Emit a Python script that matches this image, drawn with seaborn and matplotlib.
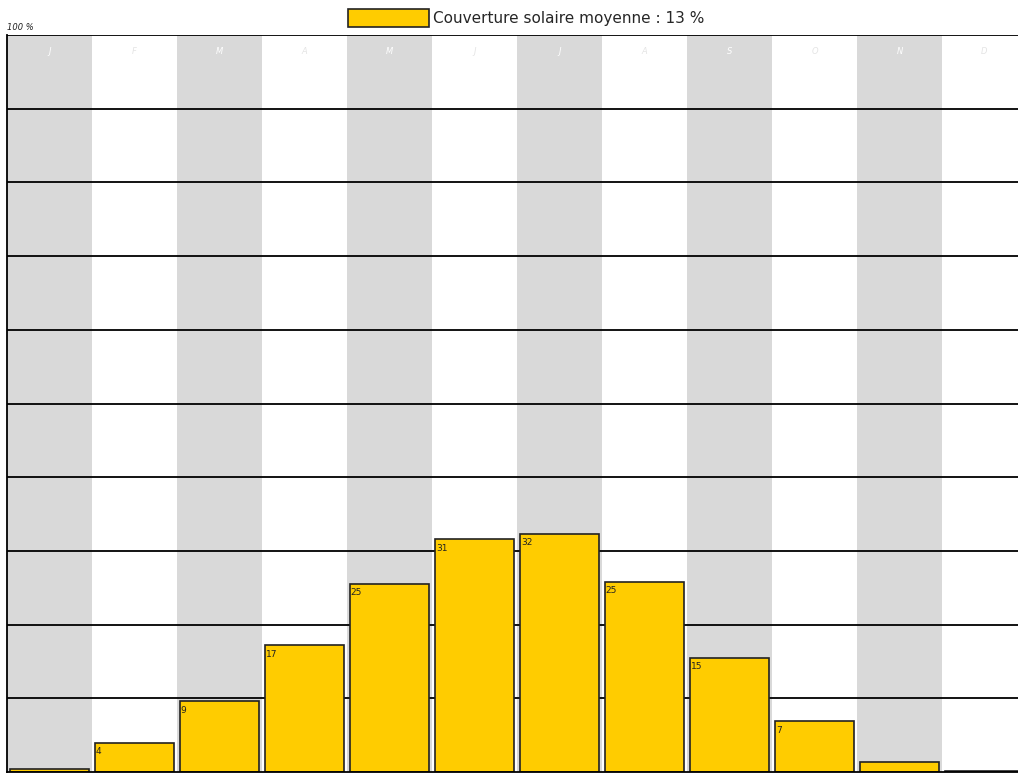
import numpy as np
import pandas as pd
import matplotlib
matplotlib.use('Agg')
import matplotlib.pyplot as plt
import seaborn as sns
from matplotlib.patches import Patch

# data
months = ['janv', 'fevr', 'mars', 'avr', 'mai', 'juin',
          'juil', 'aout', 'sept', 'oct', 'nov', 'dec']
month_letters = ['J', 'F', 'M', 'A', 'M', 'J', 'J', 'A', 'S', 'O', 'N', 'D']
coverage = [0.4, 4.0, 9.6, 17.2, 25.5, 31.6, 32.3, 25.8, 15.5, 6.9, 1.4, 0.15]
bar_labels = ['', '4', '9', '17', '25', '31', '32', '25', '15', '7', '', '']
legend_text = 'Couverture solaire moyenne : 13 %'

df = pd.DataFrame({'mois': months, 'couverture': coverage})

sns.set_style('white')
plt.rcParams['font.family'] = ['DejaVu Sans']

fig = plt.figure(figsize=(10.18, 7.73), dpi=100)
ax = fig.add_axes([7 / 1018, 1 / 773, 1 - 7 / 1018, (772 - 35) / 773])

# alternating month bands
for i in range(len(months)):
    if i % 2 == 0:
        ax.axvspan(i - 0.5, i + 0.5, color='#d9d9d9', zorder=0, lw=0)

# horizontal grid lines every 10 %
for y in range(10, 101, 10):
    ax.axhline(y, color='black', lw=1.3, zorder=1)

sns.barplot(data=df, x='mois', y='couverture', order=months, color='#ffcc00',
            width=0.94, edgecolor='#222222', linewidth=1.2, saturation=1,
            ax=ax, zorder=2)

# value labels, top-left inside each bar
for i, (v, lab) in enumerate(zip(coverage, bar_labels)):
    if lab:
        ax.text(i - 0.455, v - 0.6, lab, fontsize=6.5, color='#222222',
                ha='left', va='top', zorder=3)

# month letters near the top
for i, m in enumerate(month_letters):
    c = 'white' if i % 2 == 0 else '#e4e4e4'
    ax.text(i, 97.7, m, fontsize=6, style='italic', color=c,
            ha='center', va='center', zorder=3)

ax.set_xlim(-0.5, 11.5 - 9 / 85)
ax.set_ylim(0, 100)
ax.set_xticks([])
ax.set_yticks([])
ax.set_xlabel('')
ax.set_ylabel('')
for s in ['right', 'top']:
    ax.spines[s].set_visible(False)
ax.spines['left'].set_color('black')
ax.spines['left'].set_linewidth(1.3)
ax.spines['bottom'].set_color('black')
ax.spines['bottom'].set_linewidth(1.3)

fig.text(7 / 1018, 1 - 28 / 773, '100 %', fontsize=6, style='italic',
         ha='left', va='center', color='#222222')

fig.legend(handles=[Patch(facecolor='#ffcc00', edgecolor='#222222', lw=1.2)],
           labels=[legend_text], loc='center', bbox_to_anchor=(526 / 1018, 1 - 18 / 773),
           frameon=False, fontsize=11, handlelength=5.3, handleheight=1.45,
           handletextpad=0.3, borderpad=0)

fig.savefig('out.png', dpi=100)
